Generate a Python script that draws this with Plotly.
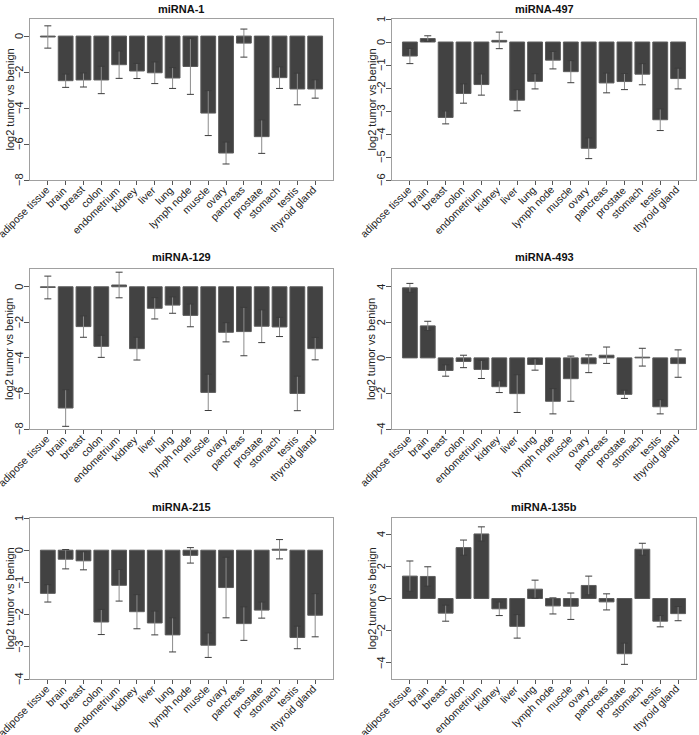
import plotly.graph_objects as go

categories = ["adipose tissue", "brain", "breast", "colon", "endometrium", "kidney",
              "liver", "lung", "lymph node", "muscle", "ovary", "pancreas",
              "prostate", "stomach", "testis", "thyroid gland"]

titles = ["miRNA-1", "miRNA-497", "miRNA-129", "miRNA-493", "miRNA-215", "miRNA-135b"]

mir1_mean = [-0.05, -2.48, -2.44, -2.44, -1.59, -1.94, -2.04, -2.33, -1.69, -4.28, -6.5, -0.39, -5.59, -2.31, -2.94, -2.94]
mir1_err = [0.62, 0.37, 0.39, 0.76, 0.76, 0.42, 0.6, 0.58, 1.55, 1.25, 0.61, 0.78, 0.93, 0.6, 0.88, 0.51]

mir497_mean = [-0.61, 0.15, -3.28, -2.24, -1.85, 0.07, -2.53, -1.71, -0.79, -1.29, -4.62, -1.78, -1.72, -1.4, -3.38, -1.59]
mir497_err = [0.33, 0.12, 0.28, 0.42, 0.46, 0.36, 0.46, 0.33, 0.38, 0.48, 0.45, 0.43, 0.35, 0.46, 0.47, 0.45]

mir129_mean = [-0.04, -6.82, -2.24, -3.35, 0.1, -3.48, -1.21, -1.03, -1.61, -5.94, -2.56, -2.52, -2.22, -2.26, -6.0, -3.48]
mir129_err = [0.64, 1.03, 0.6, 0.62, 0.72, 0.64, 0.6, 0.46, 0.64, 1.02, 0.54, 1.36, 0.92, 0.54, 0.97, 0.63]

mir493_mean = [3.94, 1.8, -0.71, -0.2, -0.65, -1.62, -2.01, -0.37, -2.44, -1.17, -0.33, 0.15, -2.05, 0.04, -2.75, -0.32]
mir493_err = [0.25, 0.26, 0.32, 0.35, 0.51, 0.33, 1.06, 0.32, 0.71, 1.27, 0.5, 0.46, 0.23, 0.5, 0.4, 0.77]

mir215_mean = [-1.34, -0.28, -0.33, -2.23, -1.09, -1.91, -2.26, -2.63, -0.16, -2.95, -1.16, -2.28, -1.86, 0.03, -2.71, -2.02]
mir215_err = [0.27, 0.3, 0.28, 0.39, 0.49, 0.53, 0.37, 0.53, 0.24, 0.38, 0.94, 0.52, 0.25, 0.3, 0.35, 0.67]

mir135b_mean = [1.39, 1.37, -0.91, 3.16, 4.01, -0.64, -1.73, 0.58, -0.46, -0.48, 0.81, -0.21, -3.43, 3.06, -1.41, -0.94]
mir135b_err = [0.94, 0.6, 0.5, 0.47, 0.44, 0.42, 0.73, 0.56, 0.5, 0.82, 0.58, 0.5, 0.66, 0.37, 0.35, 0.44]

y_ranges = [[-8, 0.95], [-6, 1], [-8, 1.0], [-4, 5], [-4, 1], [-5, 5]]
y_ticks = [[0, -2, -4, -6, -8], [1, 0, -1, -2, -3, -4, -5, -6], [0, -2, -4, -6, -8],
           [4, 2, 0, -2, -4], [1, 0, -1, -2, -3, -4], [4, 2, 0, -2, -4]]

means = [mir1_mean, mir497_mean, mir129_mean, mir493_mean, mir215_mean, mir135b_mean]
errs = [mir1_err, mir497_err, mir129_err, mir493_err, mir215_err, mir135b_err]

W, H = 699, 735
col_px = [(30, 333), (392, 696)]
row_px = [(19, 180), (269, 429), (518, 679)]
title_y = [9, 257, 507]
ytitle_x = [9, 371]

FONT = "Liberation Sans, Arial, sans-serif"
fig = go.Figure()
layout = dict(width=W, height=H, margin=dict(l=0, r=0, t=0, b=0, autoexpand=False),
              paper_bgcolor="white", plot_bgcolor="white", showlegend=False,
              bargap=0.17, font=dict(family=FONT, size=11, color="#222"))
annotations = []


def fmt(v):
    return ("\u2212" + str(abs(v))) if v < 0 else str(v)


for k in range(6):
    r, c = divmod(k, 2)
    xa = "x" if k == 0 else f"x{k+1}"
    ya = "y" if k == 0 else f"y{k+1}"
    xs = list(range(len(categories)))
    fig.add_trace(go.Bar(
        x=xs, y=means[k], xaxis=xa, yaxis=ya,
        marker=dict(color="#424242", line=dict(color="#5c5c5c", width=1)),
        error_y=dict(type="data", array=errs[k], visible=True,
                     color="#8c8c8c", thickness=1, width=0),
    ))
    caps = [m + e for m, e in zip(means[k], errs[k])] + [m - e for m, e in zip(means[k], errs[k])]
    fig.add_trace(go.Scatter(
        x=xs + xs, y=caps, xaxis=xa, yaxis=ya, mode="markers", hoverinfo="skip",
        marker=dict(symbol="line-ew", size=5, line=dict(color="#3c3c3c", width=1)),
    ))
    x0, x1 = col_px[c]
    t0, t1 = row_px[r]
    axis_common = dict(showline=True, mirror=True, linecolor="#a0a0a0", linewidth=1,
                       showgrid=False, zeroline=False, ticks="outside", automargin=False,
                       tickcolor="#555", showticklabels=False)
    layout["xaxis" if k == 0 else f"xaxis{k+1}"] = dict(
        domain=[x0 / W, x1 / W], anchor=ya, range=[-1, 16],
        tickmode="array", tickvals=xs, ticklen=4,
        **axis_common)
    layout["yaxis" if k == 0 else f"yaxis{k+1}"] = dict(
        domain=[1 - t1 / H, 1 - t0 / H], anchor=xa, range=y_ranges[k],
        tickmode="array", tickvals=y_ticks[k], ticklen=5,
        **axis_common)
    for v in y_ticks[k]:
        annotations.append(dict(text=fmt(v), xref="paper", yref=ya,
                                x=(x0 - 11) / W, y=v, showarrow=False, textangle=-90,
                                xanchor="center", yanchor="middle",
                                font=dict(family=FONT, size=11, color="#222")))
    for i, name in enumerate(categories):
        annotations.append(dict(text=name, xref=xa, yref="paper",
                                x=i, y=1 - t1 / H, xshift=6, yshift=-1,
                                showarrow=False, textangle=-45,
                                xanchor="right", yanchor="top",
                                font=dict(family=FONT, size=10.5, color="#222")))
    annotations.append(dict(text=f"<b>{titles[k]}</b>", xref="paper", yref="paper",
                            x=(x0 + x1) / 2 / W, y=1 - title_y[r] / H, showarrow=False,
                            xanchor="center", yanchor="middle",
                            font=dict(family=FONT, size=11, color="#111")))
    annotations.append(dict(text="log2 tumor vs benign", xref="paper", yref="paper",
                            x=ytitle_x[c] / W, y=1 - (t0 + t1) / 2 / H, showarrow=False,
                            textangle=-90, xanchor="center", yanchor="middle",
                            font=dict(family=FONT, size=11, color="#222")))

layout["annotations"] = annotations
fig.update_layout(**layout)
fig.write_html("out.html", config={"displayModeBar": False},
               post_script="document.body.style.margin='0';document.body.style.overflow='hidden';")
